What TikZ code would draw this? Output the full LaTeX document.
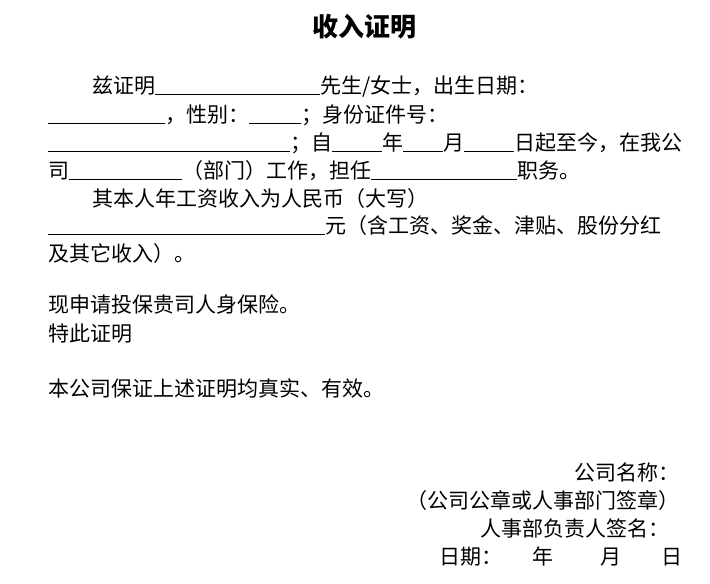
\documentclass[tikz,border=0pt]{standalone}
\usepackage{fontspec}
\setmainfont{Noto Sans CJK SC}
\newcommand{\blank}[1]{\rule[-2pt]{#1pt}{0.8pt}}
\begin{document}
\begin{tikzpicture}[x=1pt,y=-1pt,
  ln/.style={anchor=base west,inner sep=0pt,font=\fontsize{21}{21}\selectfont},
  rl/.style={anchor=base east,inner sep=0pt,font=\fontsize{21}{21}\selectfont}]
\useasboundingbox (0,0) rectangle (710,584);
\node[anchor=base,inner sep=0pt,font=\fontsize{26}{26}\selectfont\bfseries] (t) at (364,36) {收入证明};
\node[ln] (l1) at (92,93) {兹证明\blank{165}先生/女士，出生日期：};
\node[ln] (l2) at (48,122) {\blank{117}，性别：\blank{52}；身份证件号：};
\node[ln] (l3) at (48,150) {\blank{242}；自\blank{50}年\blank{40}月\blank{50}日起至今，在我公};
\node[ln] (l4) at (48,178) {司\blank{113}（部门）工作，担任\blank{146}职务。};
\node[ln] (l5) at (92,206) {其本人年工资收入为人民币（大写）};
\node[ln] (l6) at (48,233) {\blank{277}元（含工资、奖金、津贴、股份分红};
\node[ln] (l7) at (48,261) {及其它收入）。};
\node[ln] (l8) at (48,312) {现申请投保贵司人身保险。};
\node[ln] (l9) at (48,341) {特此证明};
\node[ln] (l10) at (48,396) {本公司保证上述证明均真实、有效。};
\node[rl] (r1) at (680,480) {公司名称：};
\node[rl] (r2) at (680,508) {（公司公章或人事部门签章）};
\node[rl] (r3) at (670,536) {人事部负责人签名：};
\node[rl] (r4) at (683,564) {日期：\hspace{30pt}年\hspace{47pt}月\hspace{40pt}日};
\end{tikzpicture}
\end{document}
